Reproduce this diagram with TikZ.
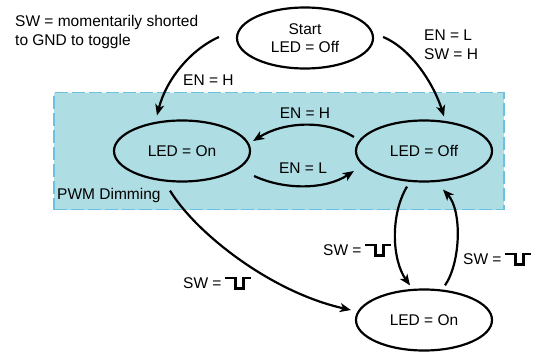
\documentclass[tikz,border=0pt]{standalone}
\usepackage{fontspec}
\setmainfont{Liberation Sans}
\usetikzlibrary{shapes.geometric,arrows.meta,calc}
\definecolor{pwmfill}{HTML}{AEDDE3}
\definecolor{pwmedge}{HTML}{6CC0E0}
\newcommand\pulsesym{\tikz[baseline=0pt,x=1pt,y=1pt]\draw[line width=2.5pt,line join=miter,line cap=butt] (0,10.5) -- (10,10.5) -- (10,0) -- (18,0) -- (18,10.5) -- (26,10.5);}
\begin{document}
\begin{tikzpicture}[x=1pt,y=-1pt,
  every node/.style={font=\fontsize{15.5}{18.5}\selectfont, inner sep=0pt},
  state/.style={ellipse, draw, line width=2.2pt, minimum width=136pt, minimum height=61pt, align=center},
  lbl/.style={anchor=west, align=left},
  conn/.style={line width=2.2pt, -{Stealth[length=11pt,width=9pt,inset=3pt]}}]
\useasboundingbox (0,0) rectangle (534,352);
% PWM region
\node[draw=pwmedge, fill=pwmfill, line width=1.5pt, dash pattern=on 13pt off 4pt,
      minimum width=450pt, minimum height=117pt, anchor=north west] (pwm) at (53,92) {};
\node[lbl] (pwmlbl) at (57,195) {PWM Dimming};
% states
\node[state] (start) at (305,38) {Start\\LED = Off};
\node[state] (on) at (182,151) {LED = On};
\node[state] (off) at (424,151) {LED = Off};
\node[state] (on2) at (424,320) {LED = On};
% notes
\node[lbl] (note) at (15,32) {SW = momentarily shorted\\to GND to toggle};
% arrows
\draw[conn] ($(start.west)+(-17,-1)$) .. controls (190,50) and (166,80) .. ($(on.north)+(-25,-4)$);
\node[lbl] (l1) at (183,80) {EN = H};
\draw[conn] ($(start.east)+(9,-1)$) .. controls (412,49) and (434,85) .. ($(off.north)+(20,-3)$);
\node[lbl] (l2) at (424,44.5) {EN = L\\SW = H};
\draw[conn] ($(off.west)+(-1,-14)$) .. controls (325,119) and (283,122) .. ($(on.east)+(2,-10)$);
\node (l3) at (305,113) {EN = H};
\draw[conn] ($(on.east)+(3,25)$) .. controls (284,190) and (325,190) .. ($(off.west)+(-1,20)$);
\node (l4) at (303,168) {EN = L};
\draw[conn] ($(on.south)+(-12,8)$) .. controls (195,232) and (270,292) .. ($(on2.west)+(-4,-10)$);
\node[lbl] (l5) at (183,283) {SW =\hspace{2.5pt}\pulsesym};
\draw[conn] ($(off.south)+(-17,4)$) .. controls (390,215) and (392,260) .. ($(on2.north)+(-14,-3)$);
\node[lbl] (l6) at (323,250) {SW =\hspace{2.5pt}\pulsesym};
\draw[conn] ($(on2.north)+(21,-3)$) .. controls (461,262) and (462,210) .. ($(off.south)+(19,7)$);
\node[lbl] (l7) at (463,259) {SW =\hspace{2.5pt}\pulsesym};
\end{tikzpicture}
\end{document}
